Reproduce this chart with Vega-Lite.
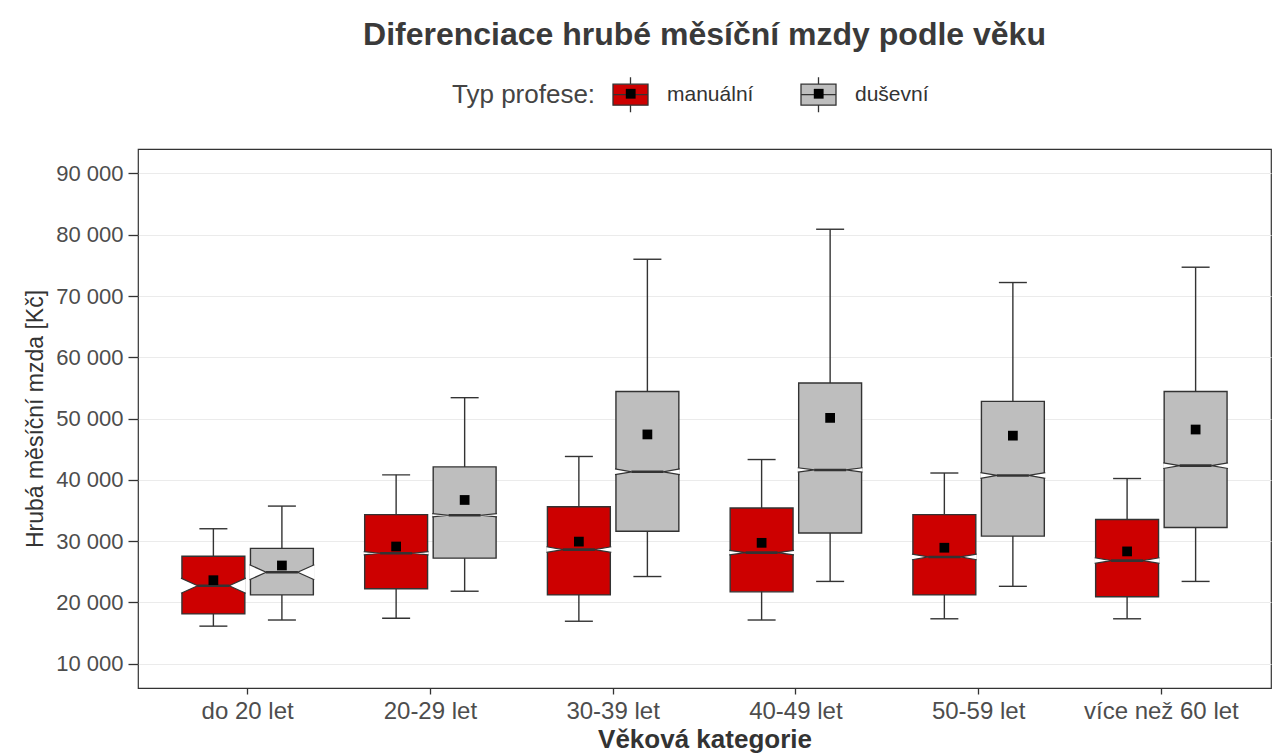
{
  "$schema": "https://vega.github.io/schema/vega-lite/v6.json",
  "width": 1133,
  "height": 539,
  "autosize": {"type": "none"},
  "padding": {"left": 138, "top": 149, "right": 5, "bottom": 68},
  "background": "white",
  "title": {
    "text": "Diferenciace hrubé měsíční mzdy podle věku",
    "anchor": "middle",
    "font": "Liberation Sans",
    "fontSize": 32,
    "fontWeight": "bold",
    "color": "#3a3a3a",
    "offset": 24
  },
  "config": {
    "view": {"stroke": "#333333", "strokeWidth": 1.2},
    "axis": {
      "labelFont": "Liberation Sans",
      "titleFont": "Liberation Sans",
      "labelColor": "#4D4D4D",
      "titleColor": "#333333",
      "tickColor": "#333333",
      "tickWidth": 1.3,
      "domain": false
    }
  },
  "data": {
    "values": [
      {"age": "do 20 let", "type": "manuální", "wlo": 16100, "q1": 18100, "med": 22700, "q3": 27500, "whi": 32000, "mean": 23600},
      {"age": "do 20 let", "type": "duševní", "wlo": 17100, "q1": 21200, "med": 24900, "q3": 28800, "whi": 35700, "mean": 26000},
      {"age": "20-29 let", "type": "manuální", "wlo": 17400, "q1": 22200, "med": 28000, "q3": 34300, "whi": 40800, "mean": 29100},
      {"age": "20-29 let", "type": "duševní", "wlo": 21800, "q1": 27200, "med": 34200, "q3": 42100, "whi": 53400, "mean": 36700},
      {"age": "30-39 let", "type": "manuální", "wlo": 16900, "q1": 21200, "med": 28600, "q3": 35600, "whi": 43800, "mean": 29900},
      {"age": "30-39 let", "type": "duševní", "wlo": 24200, "q1": 31600, "med": 41300, "q3": 54400, "whi": 76000, "mean": 47400},
      {"age": "40-49 let", "type": "manuální", "wlo": 17100, "q1": 21700, "med": 28100, "q3": 35400, "whi": 43300, "mean": 29700},
      {"age": "40-49 let", "type": "duševní", "wlo": 23400, "q1": 31300, "med": 41600, "q3": 55800, "whi": 80900, "mean": 50100},
      {"age": "50-59 let", "type": "manuální", "wlo": 17300, "q1": 21200, "med": 27400, "q3": 34300, "whi": 41100, "mean": 28900},
      {"age": "50-59 let", "type": "duševní", "wlo": 22600, "q1": 30800, "med": 40700, "q3": 52800, "whi": 72200, "mean": 47200},
      {"age": "více než 60 let", "type": "manuální", "wlo": 17300, "q1": 20900, "med": 26800, "q3": 33500, "whi": 40200, "mean": 28300},
      {"age": "více než 60 let", "type": "duševní", "wlo": 23400, "q1": 32200, "med": 42300, "q3": 54400, "whi": 74700, "mean": 48200}
    ]
  },
  "encoding": {
    "x": {
      "field": "age",
      "type": "nominal",
      "sort": ["do 20 let", "20-29 let", "30-39 let", "40-49 let", "50-59 let", "více než 60 let"],
      "scale": {"paddingInner": 0, "paddingOuter": 0.1},
      "title": "Věková kategorie",
      "axis": {
        "labelAngle": 0,
        "labelFontSize": 24,
        "labelPadding": 5,
        "tickSize": 6,
        "titleFontSize": 26,
        "titleFontWeight": "bold",
        "titlePadding": 3,
        "grid": false
      }
    },
    "xOffset": {
      "field": "type",
      "type": "nominal",
      "scale": {"domain": ["manuální", "duševní"], "paddingInner": 0.082, "paddingOuter": 0.3745}
    }
  },
  "layer": [
    {
      "mark": {"type": "rule", "color": "#333333", "strokeWidth": 1.4},
      "encoding": {
        "y": {
          "field": "wlo",
          "type": "quantitative",
          "title": "Hrubá měsíční mzda [Kč]",
          "scale": {"domain": [6000, 94000], "nice": false, "zero": false},
          "axis": {
            "values": [10000, 15000, 20000, 25000, 30000, 35000, 40000, 45000, 50000, 55000, 60000, 65000, 70000, 75000, 80000, 85000, 90000],
            "labelExpr": "datum.value % 10000 ? '' : replace(format(datum.value, ','), ',', ' ')",
            "labelFontSize": 22,
            "labelPadding": 5,
            "tickSize": 10,
            "tickOpacity": {"condition": {"test": "datum.value % 10000 !== 0", "value": 0}, "value": 1},
            "gridColor": "#EBEBEB",
            "gridWidth": 1.2,
            "titleFontSize": 23,
            "titleFontWeight": "normal",
            "titlePadding": 8
          }
        },
        "y2": {"field": "whi"}
      }
    },
    {
      "mark": {"type": "bar", "stroke": "#333333", "strokeWidth": 1.4},
      "encoding": {
        "y": {"field": "q1", "type": "quantitative", "title": "Hrubá měsíční mzda [Kč]"},
        "y2": {"field": "q3"},
        "fill": {
          "field": "type",
          "type": "nominal",
          "scale": {"domain": ["manuální", "duševní"], "range": ["#CD0000", "#BEBEBE"]},
          "legend": {
            "title": "Typ profese:",
            "orient": "none",
            "legendX": 314,
            "legendY": -73,
            "direction": "horizontal",
            "titleOrient": "left",
            "titleFont": "Liberation Sans",
            "titleFontSize": 26,
            "titleFontWeight": "normal",
            "titleColor": "#444444",
            "titlePadding": 16,
            "labelFont": "Liberation Sans",
            "labelFontSize": 21,
            "labelColor": "#333333",
            "labelOffset": 18,
            "columnPadding": 44,
            "symbolType": "M -1 -0.6 L 1 -0.6 L 1 0.6 L -1 0.6 Z M 0 -0.6 L 0 -1 M 0 0.6 L 0 1 M -1 0 L 1 0",
            "symbolSize": 1225,
            "symbolStrokeColor": "#333333",
            "symbolStrokeWidth": 1.3,
            "symbolOpacity": 1
          }
        }
      }
    },
    {
      "mark": {"type": "point", "filled": true, "fill": "white", "stroke": "#333333", "strokeWidth": 1.2, "opacity": 1, "size": 3956},
      "encoding": {
        "y": {"field": "med", "type": "quantitative", "title": "Hrubá měsíční mzda [Kč]"},
        "shape": {
          "field": "age",
          "type": "nominal",
          "legend": null,
          "scale": {
            "domain": ["do 20 let", "20-29 let", "30-39 let", "40-49 let", "50-59 let", "více než 60 let"],
            "range": [
              "M -1.03 -0.24 L -0.5 0 L -1.03 0.24 M 1.03 -0.24 L 0.5 0 L 1.03 0.24",
              "M -1.03 -0.05 L -0.5 0 L -1.03 0.05 M 1.03 -0.05 L 0.5 0 L 1.03 0.05",
              "M -1.03 -0.09 L -0.5 0 L -1.03 0.09 M 1.03 -0.09 L 0.5 0 L 1.03 0.09",
              "M -1.03 -0.07 L -0.5 0 L -1.03 0.07 M 1.03 -0.07 L 0.5 0 L 1.03 0.07",
              "M -1.03 -0.09 L -0.5 0 L -1.03 0.09 M 1.03 -0.09 L 0.5 0 L 1.03 0.09",
              "M -1.03 -0.09 L -0.5 0 L -1.03 0.09 M 1.03 -0.09 L 0.5 0 L 1.03 0.09"
            ]
          }
        }
      }
    },
    {
      "mark": {"type": "tick", "color": "#333333", "size": 32, "thickness": 2.6, "opacity": 1},
      "encoding": {
        "y": {"field": "med", "type": "quantitative", "title": "Hrubá měsíční mzda [Kč]"}
      }
    },
    {
      "mark": {"type": "tick", "color": "#333333", "size": 28, "thickness": 1.4, "opacity": 1},
      "encoding": {
        "y": {"field": "wlo", "type": "quantitative", "title": "Hrubá měsíční mzda [Kč]"}
      }
    },
    {
      "mark": {"type": "tick", "color": "#333333", "size": 28, "thickness": 1.4, "opacity": 1},
      "encoding": {
        "y": {"field": "whi", "type": "quantitative", "title": "Hrubá měsíční mzda [Kč]"}
      }
    },
    {
      "mark": {"type": "point", "shape": "square", "filled": true, "fill": "black", "strokeWidth": 0, "size": 95},
      "encoding": {
        "y": {"field": "mean", "type": "quantitative", "title": "Hrubá měsíční mzda [Kč]"},
        "opacity": {
          "field": "type",
          "type": "nominal",
          "sort": ["manuální", "duševní"],
          "scale": {"range": [1, 1]},
          "legend": {
            "title": null,
            "orient": "none",
            "legendX": 475.2,
            "legendY": -73,
            "direction": "horizontal",
            "labelExpr": "''",
            "labelFont": "Liberation Sans",
            "labelFontSize": 21,
            "labelOffset": 18,
            "columnPadding": 135,
            "symbolType": "M -0.28 -0.28 L 0.28 -0.28 L 0.28 0.28 L -0.28 0.28 Z",
            "symbolSize": 1225,
            "symbolFillColor": "black",
            "symbolStrokeWidth": 0,
            "symbolOpacity": 1
          }
        }
      }
    }
  ]
}
